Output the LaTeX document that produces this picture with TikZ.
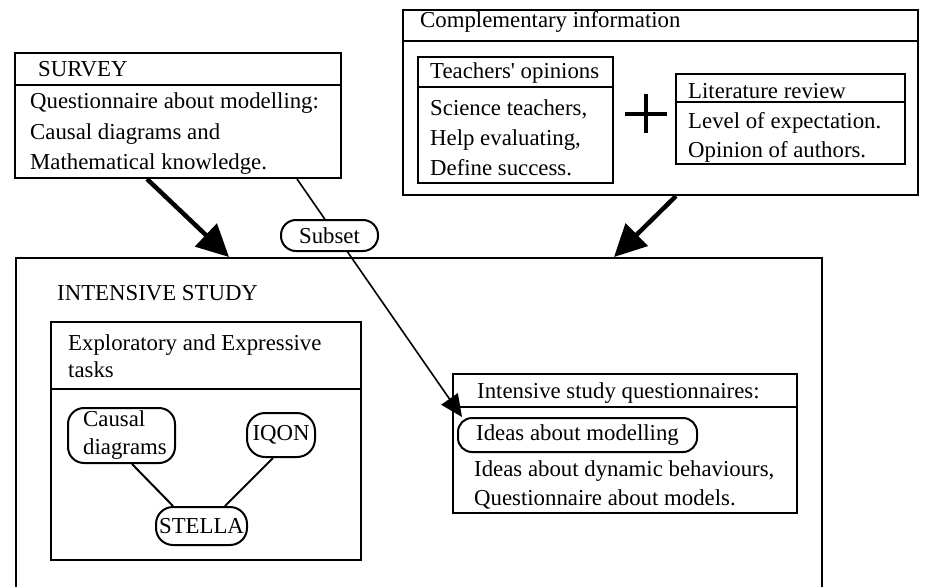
\documentclass[tikz,border=0pt]{standalone}
\usepackage{fontspec}
\setmainfont{Liberation Serif}
\usetikzlibrary{arrows.meta,calc}
\begin{document}
\begin{tikzpicture}[x=1pt,y=-1pt,
  every node/.style={font=\fontsize{22.8}{28}\selectfont},
  panel/.style 2 args={draw, line width=2pt, inner sep=0pt,
    minimum width=#1, minimum height=#2},
  pill/.style n args={3}{draw, line width=2pt, rounded corners=#3,
    inner sep=0pt, minimum width=#1, minimum height=#2},
  txt/.style={anchor=base west, inner sep=0pt},
  rule/.style={line width=2pt},
  bigarrow/.style={line width=4.5pt, -{Triangle[length=32pt,width=31pt]}},
  thinarrow/.style={line width=1.6pt, -{Triangle[length=22pt,width=20pt]}},
  link/.style={line width=2pt}
]
\clip (0,0) rectangle (925,586);

% ---------- survey ----------
\node[panel={326pt}{125pt}] (survey) at (178,115.5) {};
\draw[rule] ([yshift=-33pt]survey.north west) -- ([yshift=-33pt]survey.north east);
\node[txt] (svT) at (38,76) {SURVEY};
\node[txt] (sv1) at (30,108) {Questionnaire about modelling:};
\node[txt] (sv2) at (30,139) {Causal diagrams and};
\node[txt] (sv3) at (30,169) {Mathematical knowledge.};

% ---------- complementary information ----------
\node[panel={515pt}{185pt}] (comp) at (660.5,102.5) {};
\draw[rule] ([yshift=-32pt]comp.north west) -- ([yshift=-32pt]comp.north east);
\node[txt] (cpT) at (420,28) {Complementary information};

\node[panel={195pt}{126pt}] (teach) at (515.5,120) {};
\draw[rule] ([yshift=-31pt]teach.north west) -- ([yshift=-31pt]teach.north east);
\node[txt] (tT) at (430,78) {Teachers\textquotesingle\ opinions};
\node[txt] (t1) at (430,115) {Science teachers,};
\node[txt] (t2) at (430,145) {Help evaluating,};
\node[txt] (t3) at (430,175) {Define success.};

\coordinate (plus) at (646,113.5);
\draw[line width=4pt] ([xshift=-21pt]plus) -- ([xshift=21pt]plus);
\draw[line width=4pt] ([yshift=19.5pt]plus) -- ([yshift=-19.5pt]plus);

\node[panel={229pt}{90pt}] (lit) at (790.5,119) {};
\draw[rule] ([yshift=-29pt]lit.north west) -- ([yshift=-29pt]lit.north east);
\node[txt] (lT) at (688,98) {Literature review};
\node[txt] (l1) at (688,128) {Level of expectation.};
\node[txt] (l2) at (688,157) {Opinion of authors.};

% ---------- intensive study (open at the bottom) ----------
\node[panel={806pt}{360pt}] (intensive) at (419,438) {};
\node[txt] (inT) at (57,300) {INTENSIVE STUDY};

\node[panel={310pt}{238pt}] (explore) at (206,441) {};
\draw[rule] ([yshift=-68pt]explore.north west) -- ([yshift=-68pt]explore.north east);
\node[txt] (ex1) at (68,350) {Exploratory and Expressive};
\node[txt] (ex2) at (68,377) {tasks};

\node[pill={107pt}{55pt}{16pt}] (causal) at (121.5,435.5) {};
\node[txt] (ca1) at (83,426) {Causal};
\node[txt] (ca2) at (83,454) {diagrams};
\node[pill={68pt}{44pt}{18pt}] (iqon) at (281,435) {IQON};
\node[pill={91pt}{38pt}{17pt}] (stella) at (201.5,526) {STELLA};
\draw[link] ([xshift=10.5pt]causal.south) -- ([xshift=-28.5pt]stella.north);
\draw[link] ([xshift=-8pt]iqon.south) -- ([xshift=23.5pt]stella.north);

\node[panel={344pt}{139pt}] (quest) at (625,443.5) {};
\draw[rule] ([yshift=-34pt]quest.north west) -- ([yshift=-34pt]quest.north east);
\node[txt] (qT) at (477,398) {Intensive study questionnaires:};
\node[pill={239pt}{34pt}{14pt}] (ideas) at (577.5,435) {Ideas about modelling};
\node[txt] (q2) at (474,476) {Ideas about dynamic behaviours,};
\node[txt] (q3) at (474,505) {Questionnaire about models.};

% ---------- connectors ----------
\draw[bigarrow] ([xshift=133pt]survey.south west) -- ([xshift=214pt]intensive.north west);
\draw[bigarrow] ([xshift=274pt]comp.south west) -- ([xshift=599pt]intensive.north west);

\coordinate (subsetfrom) at ([xshift=283pt]survey.south west);
\draw[thinarrow] (subsetfrom) -- ([xshift=5pt]ideas.north west);
\node[pill={97pt}{31pt}{15pt}, fill=white] (subset) at (329.5,235.5) {Subset};
\end{tikzpicture}
\end{document}
